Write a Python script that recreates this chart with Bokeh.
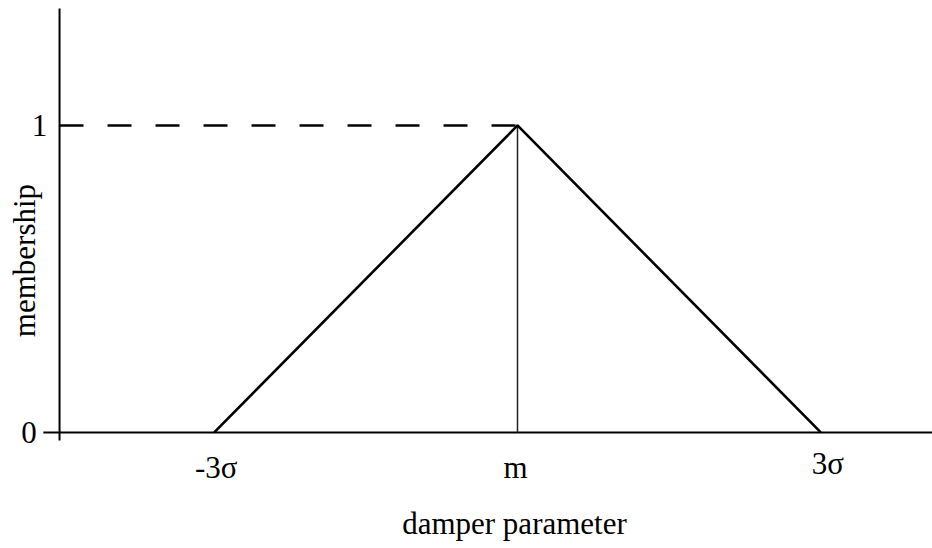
from math import pi

from bokeh.core.properties import value
from bokeh.embed import file_html
from bokeh.models import ColumnDataSource, Range1d
from bokeh.plotting import figure
from bokeh.resources import INLINE

# Triangular membership function of the damper parameter (x in units of sigma)
x_points = [-3, 0, 3]
membership = [0, 1, 0]
x_tick_values = [-3, 0, 3]
x_tick_labels = ["-3σ", "m", "3σ"]
y_tick_values = [0, 1]
y_tick_labels = ["0", "1"]
x_title = "damper parameter"
y_title = "membership"

FONT = value("Liberation Serif")
SIZE = "31px"

p = figure(
    width=932, height=548,
    x_range=Range1d(-5.114, 4.105), y_range=Range1d(-0.378, 1.407),
    output_backend="svg", toolbar_location=None,
    min_border=0, x_axis_location=None, y_axis_location=None,
)
p.grid.visible = False
p.outline_line_color = None
p.background_fill_color = "white"
p.border_fill_color = "white"

# hand-drawn axis lines (x axis crosses a little past the y axis and vice versa)
axis_x = -4.53
p.segment(x0=[-4.69], y0=[0], x1=[4.105], y1=[0], line_color="black", line_width=2)
p.segment(x0=[axis_x], y0=[-0.026], x1=[axis_x], y1=[1.381], line_color="black", line_width=2)

# dashed guide from the y axis to the peak
peak_x = x_points[1]
peak_y = membership[1]
p.segment(x0=[axis_x], y0=[peak_y], x1=[peak_x], y1=[peak_y],
          line_color="black", line_width=2.5, line_dash="24 24")

# vertical line from the peak down to the axis
p.segment(x0=[peak_x], y0=[0], x1=[peak_x], y1=[peak_y], line_color="#222222", line_width=1.5)

# the triangle itself
p.line(x_points, membership, line_color="black", line_width=2.6)

# x tick labels
xsrc = ColumnDataSource(dict(
    x=x_tick_values,
    y=[-0.114, -0.114, -0.101],
    text=x_tick_labels,
    dx=[2, -2, 7],
))
p.text(x="x", y="y", text="text", x_offset="dx", source=xsrc,
       text_font=FONT, text_font_size=SIZE, text_align="center",
       text_baseline="middle", text_color="black")

# y tick labels
ysrc = ColumnDataSource(dict(
    x=[-4.832, -4.728],
    y=y_tick_values,
    text=y_tick_labels,
))
p.text(x="x", y="y", text="text", source=ysrc,
       text_font=FONT, text_font_size=SIZE, text_align="center",
       text_baseline="middle", text_color="black")

# axis titles
p.text(x=[-0.03], y=[-0.296], text=[x_title],
       text_font=FONT, text_font_size=SIZE, text_align="center",
       text_baseline="middle", text_color="black")
p.text(x=[-4.876], y=[0.56], text=[y_title], angle=pi / 2,
       text_font=FONT, text_font_size=SIZE, text_align="center",
       text_baseline="middle", text_color="black")

open("out.html", "w").write(file_html(p, INLINE))
